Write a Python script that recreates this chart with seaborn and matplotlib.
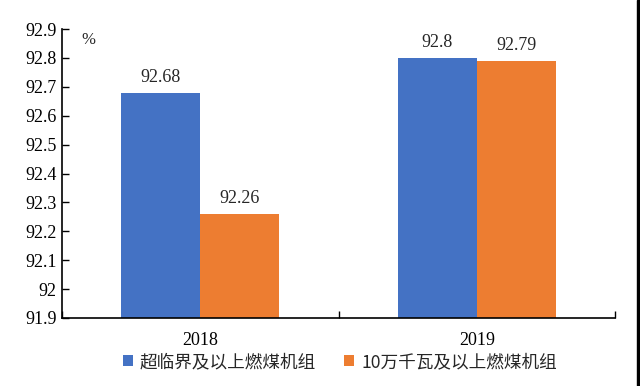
import matplotlib
matplotlib.use("Agg")
import matplotlib.pyplot as plt
import seaborn as sns
import pandas as pd
from matplotlib.patches import Rectangle
from matplotlib.ticker import FixedLocator

years = ["2018", "2019"]
series_names = ["超临界及以上燃煤机组", "10万千瓦及以上燃煤机组"]
supercritical = [92.68, 92.80]
above_100mw = [92.26, 92.79]
colors = ["#4472C4", "#ED7D31"]

df = pd.DataFrame({
    "year": years * 2,
    "series": [series_names[0]] * 2 + [series_names[1]] * 2,
    "value": supercritical + above_100mw,
})

sns.set_style("white")
plt.rcParams["font.family"] = ["Liberation Serif", "Noto Sans CJK SC", "DejaVu Sans"]

fig = plt.figure(figsize=(6.4, 3.86), dpi=100)
ax = fig.add_axes([62 / 640, 68 / 386, 553 / 640, 289 / 386])

sns.barplot(data=df, x="year", y="value", hue="series", palette=colors,
            width=0.57, saturation=1, ax=ax, legend=True, edgecolor="none")

ax.set_ylim(91.9, 92.9)
ax.set_xlim(-0.5, 1.5)
ticks = [round(91.9 + 0.1 * i, 1) for i in range(11)]
ax.set_yticks(ticks)
ax.set_yticklabels(["%g" % t for t in ticks])

for c in ax.containers:
    ax.bar_label(c, fmt="%g", padding=5, fontsize=13, family="Liberation Serif")

for s in ["top", "right"]:
    ax.spines[s].set_visible(False)
for s in ["left", "bottom"]:
    ax.spines[s].set_color("black")
    ax.spines[s].set_linewidth(1.2)

ax.tick_params(axis="y", direction="in", length=5, width=1, colors="black",
               labelsize=13, pad=4, left=True)
ax.tick_params(axis="x", which="major", length=0, labelsize=13, pad=10, colors="black")
ax.xaxis.set_minor_locator(FixedLocator([-0.5, 0.5, 1.5]))
ax.tick_params(axis="x", which="minor", direction="in", length=5, width=1,
               color="black", bottom=True)
ax.set_xlabel("")
ax.set_ylabel("")

ax.text(88 / 640, 1 - 40 / 386, "%", transform=fig.transFigure, fontsize=12,
        ha="center", va="center")

handles, labels = ax.get_legend_handles_labels()
ax.legend_.remove()
fig.legend(handles, labels, loc="center", bbox_to_anchor=(340 / 640, 24 / 386),
           ncol=2, frameon=False, handlelength=0.55, handleheight=0.55,
           handletextpad=0.4, columnspacing=1.6,
           prop={"family": ["Noto Sans CJK SC"], "size": 12.7})

fig.add_artist(Rectangle((637 / 640, 0), 3 / 640, 1, transform=fig.transFigure,
                         color="black", zorder=10))

fig.savefig("out.png", dpi=100)
